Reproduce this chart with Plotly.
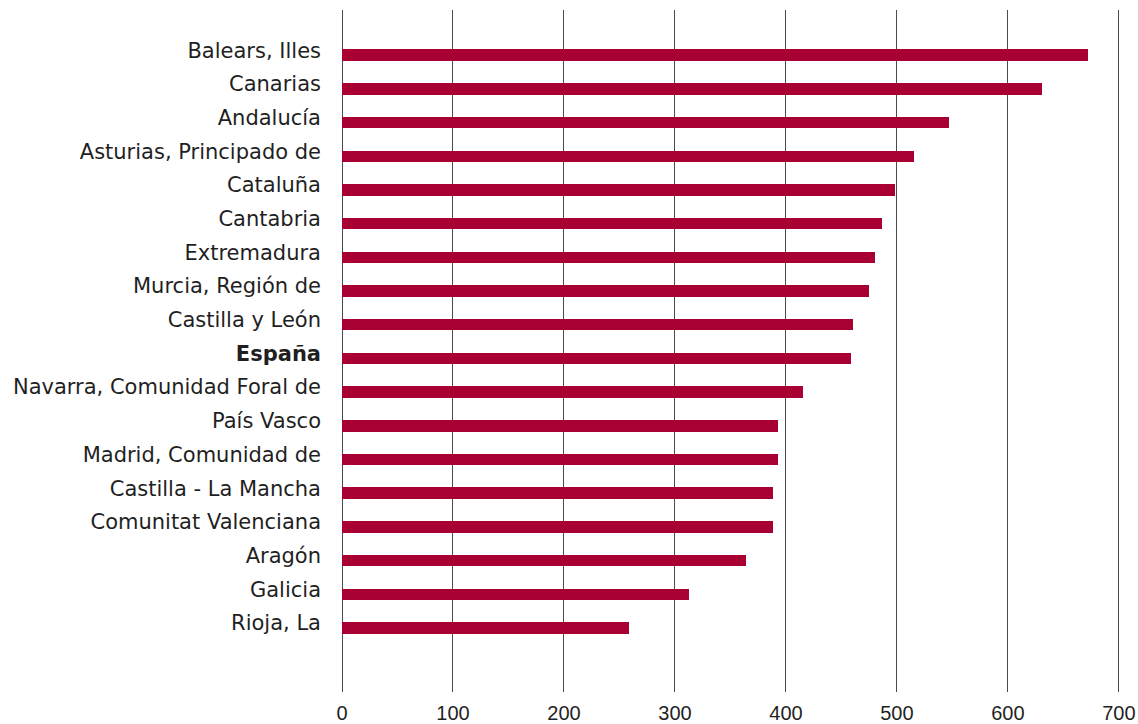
import plotly.graph_objects as go

regions = [
    "Balears, Illes", "Canarias", "Andalucía", "Asturias, Principado de",
    "Cataluña", "Cantabria", "Extremadura", "Murcia, Región de",
    "Castilla y León", "<b>España</b>", "Navarra, Comunidad Foral de",
    "País Vasco", "Madrid, Comunidad de", "Castilla - La Mancha",
    "Comunitat Valenciana", "Aragón", "Galicia", "Rioja, La",
]
values = [672, 631, 547, 515, 498, 487, 480, 475, 460, 459, 415,
          393, 393, 388, 388, 364, 313, 259]
x_ticks = [0, 100, 200, 300, 400, 500, 600, 700]

fig = go.Figure(go.Bar(
    x=values, y=regions, orientation="h",
    marker=dict(color="#A80032", line=dict(width=0)),
    width=0.34,
))

fig.update_layout(
    width=1138, height=724,
    margin=dict(l=342, r=18, t=10, b=32),
    paper_bgcolor="white", plot_bgcolor="white",
    font=dict(family="DejaVu Sans, sans-serif", size=21, color="#1f1f1f"),
    showlegend=False,
    bargap=0,
)
fig.update_xaxes(
    range=[0, 701], tickvals=x_ticks, ticktext=[str(v) for v in x_ticks],
    showgrid=True, gridcolor="#4a4a4a", gridwidth=1,
    zeroline=True, zerolinecolor="#4a4a4a", zerolinewidth=1,
    showline=False, ticks="", automargin=False,
    tickfont=dict(family="Liberation Sans, Arial, sans-serif", size=20),
    ticklabelstandoff=7,
)
fig.update_yaxes(
    type="category", range=[18.9, -1.34], automargin=False,
    showgrid=False, zeroline=False, showline=False,
    ticks="", ticklabelstandoff=20, ticklabelshift=5,
)

fig.write_html(
    "out.html",
    config={"displayModeBar": False},
    post_script="document.body.style.margin='0';document.body.style.overflow='hidden';",
)
